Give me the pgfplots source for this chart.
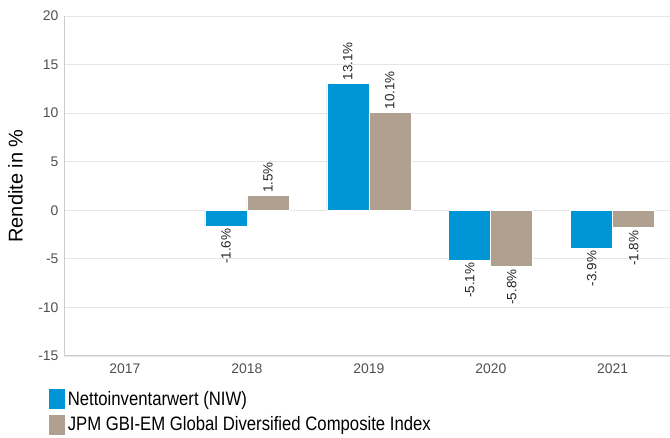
\documentclass[border=0pt]{standalone}
\usepackage{fontspec}
\setmainfont{Liberation Sans}
\newfontfamily\legfont[FakeStretch=0.86]{Liberation Sans}
\usepackage{pgfplots}
\pgfplotsset{compat=1.18}
\definecolor{niw}{RGB}{0,150,214}
\definecolor{idx}{RGB}{176,160,144}
\definecolor{tickgray}{RGB}{80,80,80}
\definecolor{gridgray}{RGB}{230,230,230}
\definecolor{axgray}{RGB}{205,205,205}
\pgfplotsset{
  myanchor/.code={\ifdim\rawy pt<0pt\pgfkeysalso{/tikz/anchor=east}\else\pgfkeysalso{/tikz/anchor=west}\fi},
}
\begin{document}
\begin{tikzpicture}[x=1bp,y=1bp]
\useasboundingbox (0,0) rectangle (670,438);
\begin{axis}[
  at={(64bp,82bp)}, anchor=south west,
  scale only axis, width=606bp, height=340bp,
  xmin=-0.5, xmax=4.47, ymin=-15, ymax=20,
  ytick={-15,-10,...,20},
  xtick={0,1,2,3,4}, xticklabels={2017,2018,2019,2020,2021},
  axis x line=bottom, axis y line=left,
  axis line style={draw=axgray, -, line width=1bp},
  ymajorgrids, grid style={gridgray, line width=0.8bp},
  major tick length=0pt,
  tick label style={font=\fontsize{14}{14}\selectfont, color=tickgray},
  /pgf/number format/assume math mode=true,
  xticklabel style={yshift=-4bp},
  yticklabel style={xshift=-2bp},
  ylabel={Rendite in \%},
  ylabel style={font=\fontsize{20}{20}\selectfont, at={(axis description cs:-0.062,0.5)}},
  ybar=0pt, bar width=42bp,
  visualization depends on={rawy \as \rawy},
  nodes near coords={\pgfmathprintnumber[fixed,precision=1,fixed zerofill]{\pgfplotspointmeta}\%},
  nodes near coords style={font=\fontsize{13.5}{13.5}\selectfont, color=black!85, rotate=90, /pgfplots/myanchor, inner sep=2.5bp},
  legend style={at={(axis description cs:0,0)}, anchor=north west, xshift=-19bp, yshift=-30bp,
    draw=none, fill=none, font=\legfont\fontsize{19.5}{19.5}\selectfont, row sep=4bp,
    /tikz/every even column/.append style={column sep=2bp}},
  legend cell align=left,
  legend image code/.code={\fill[#1] (0bp,-10.5bp) rectangle (17bp,10.5bp);},
]
\addplot[fill=niw, draw=white, line width=0.6bp] coordinates {(1,-1.6) (2,13.1) (3,-5.1) (4,-3.9)};
\addplot[fill=idx, draw=white, line width=0.6bp] coordinates {(1,1.5) (2,10.1) (3,-5.8) (4,-1.8)};
\legend{Nettoinventarwert (NIW),JPM GBI-EM Global Diversified Composite Index}
\end{axis}
\end{tikzpicture}
\end{document}
